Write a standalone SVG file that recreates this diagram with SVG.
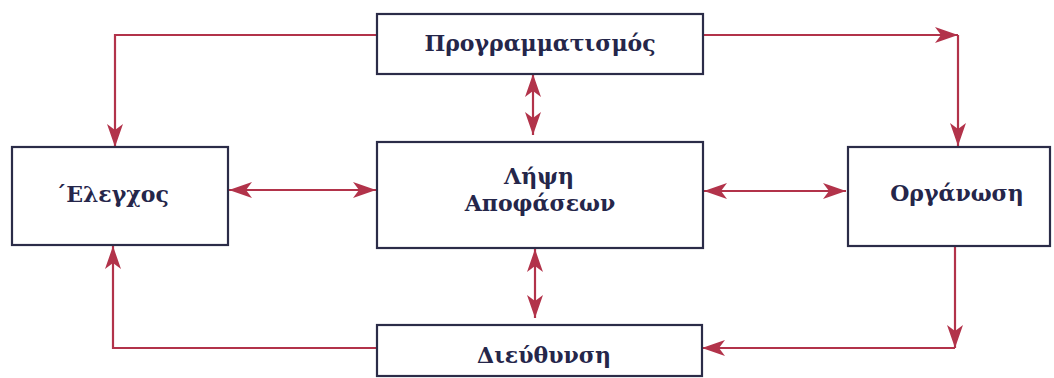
<svg xmlns="http://www.w3.org/2000/svg" width="1054" height="378" viewBox="0 0 1054 378">
<defs>
<style>
.box{fill:#fff;stroke:#2b2c48;stroke-width:2.2}
.lbl{font-family:"DejaVu Serif","Liberation Serif",serif;font-weight:bold;font-size:22px;fill:#25264a;text-anchor:middle}
.con{fill:none;stroke:#b2334a;stroke-width:2.2}
</style>
<marker id="ah" markerUnits="userSpaceOnUse" markerWidth="24" markerHeight="18" refX="23" refY="9" orient="auto-start-reverse" viewBox="0 0 24 18">
<path d="M0,1 L23,9 L0,17 L6,9 Z" fill="#b2334a"/>
</marker>
</defs>
<rect width="1054" height="378" fill="#fff"/>
<g id="connectors">
<path class="con" d="M377,35 H115 V147" marker-end="url(#ah)"/>
<path class="con" d="M703,35 H958" marker-end="url(#ah)"/>
<path class="con" d="M958,35 V146" marker-end="url(#ah)"/>
<path class="con" d="M955,246 V348" marker-end="url(#ah)"/>
<path class="con" d="M955,348 H702" marker-end="url(#ah)"/>
<path class="con" d="M377,348 H113 V246" marker-end="url(#ah)"/>
<path class="con" d="M229,190 H376" marker-start="url(#ah)" marker-end="url(#ah)"/>
<path class="con" d="M704,191 H846" marker-start="url(#ah)" marker-end="url(#ah)"/>
<path class="con" d="M533,74 V135" marker-start="url(#ah)" marker-end="url(#ah)"/>
<path class="con" d="M535,249 V318" marker-start="url(#ah)" marker-end="url(#ah)"/>
</g>
<g id="programmatismos">
<rect class="box" x="377" y="14" width="326" height="60"/>
<text class="lbl" x="540" y="51">Προγραμματισμός</text>
</g>
<g id="elegchos">
<rect class="box" x="12" y="147" width="216" height="98"/>
<text class="lbl" x="112" y="202">΄Ελεγχος</text>
</g>
<g id="lipsi">
<rect class="box" x="377" y="142" width="326" height="106"/>
<text class="lbl" x="539" y="184">Λήψη</text>
<text class="lbl" x="540" y="211">Αποφάσεων</text>
</g>
<g id="organosi">
<rect class="box" x="848" y="147" width="202" height="99"/>
<text class="lbl" x="957" y="201">Οργάνωση</text>
</g>
<g id="dieuthynsi">
<rect class="box" x="377" y="325" width="325" height="51"/>
<text class="lbl" x="544" y="363">Διεύθυνση</text>
</g>
</svg>
